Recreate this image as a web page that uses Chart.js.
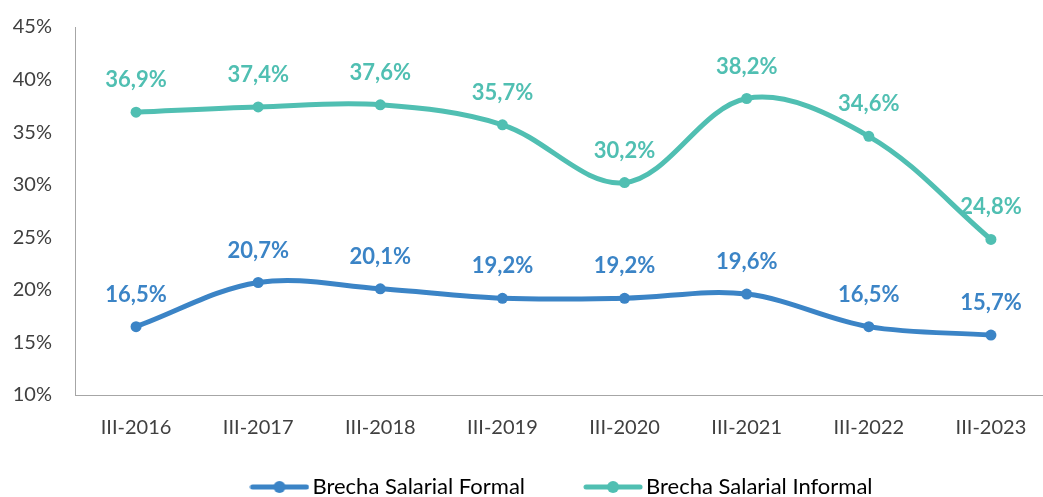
<!DOCTYPE html>
<html>
<head>
<meta charset="utf-8">
<script src="https://cdn.jsdelivr.net/npm/chart.js@4"></script>
<style>
  html, body { margin: 0; padding: 0; background: #fff; }
  #wrap { width: 1043px; height: 497px; overflow: hidden; position: relative; }
  #chart { position: absolute; left: 0; top: 0; }
</style>
</head>
<body>
<div id="wrap"><canvas id="chart" width="1130" height="508"></canvas></div>
<script>
'use strict';

// ---- 数据 ----
const periods = ['III-2016', 'III-2017', 'III-2018', 'III-2019', 'III-2020', 'III-2021', 'III-2022', 'III-2023'];
const brechaFormal = [16.5, 20.7, 20.1, 19.2, 19.2, 19.6, 16.5, 15.7];
const brechaInformal = [36.9, 37.4, 37.6, 35.7, 30.2, 38.2, 34.6, 24.8];
const yTicks = [10, 15, 20, 25, 30, 35, 40, 45];

const BLUE = '#3B84C6';
const TEAL = '#50BFB2';
const FONT = 'Lato, "Open Sans", sans-serif';

// 图例标记: 线 + 圆点
function legendMarker(color) {
    const c = document.createElement('canvas');
    c.width = 60;
    c.height = 14;
    const ctx = c.getContext('2d');
    ctx.strokeStyle = color;
    ctx.lineWidth = 5;
    ctx.lineCap = 'round';
    ctx.beginPath();
    ctx.moveTo(3, 7);
    ctx.lineTo(57, 7);
    ctx.stroke();
    ctx.fillStyle = color;
    ctx.beginPath();
    ctx.arc(30, 7, 6, 0, Math.PI * 2);
    ctx.fill();
    return c;
}

// 数据标签
const valueLabels = {
    id: 'valueLabels',
    afterDatasetsDraw(chart) {
        const ctx = chart.ctx;
        ctx.save();
        ctx.font = 'bold 22px ' + FONT;
        ctx.textAlign = 'center';
        ctx.textBaseline = 'middle';
        chart.data.datasets.forEach((ds, i) => {
            const meta = chart.getDatasetMeta(i);
            ctx.fillStyle = ds.borderColor;
            meta.data.forEach((pt, j) => {
                const txt = ds.data[j].toFixed(1).replace('.', ',') + '%';
                ctx.fillText(txt, pt.x, pt.y - 32);
            });
        });
        ctx.restore();
    }
};

new Chart(document.getElementById('chart'), {
    type: 'line',
    data: {
        labels: periods,
        datasets: [
            {
                label: 'Brecha Salarial Formal',
                data: brechaFormal,
                borderColor: BLUE,
                backgroundColor: BLUE,
                borderWidth: 5,
                tension: 0.35,
                pointRadius: 5.5,
                pointBackgroundColor: BLUE,
                pointBorderWidth: 0,
                pointStyle: 'circle'
            },
            {
                label: 'Brecha Salarial Informal',
                data: brechaInformal,
                borderColor: TEAL,
                backgroundColor: TEAL,
                borderWidth: 5,
                tension: 0.35,
                pointRadius: 5.5,
                pointBackgroundColor: TEAL,
                pointBorderWidth: 0,
                pointStyle: 'circle'
            }
        ]
    },
    options: {
        responsive: false,
        animation: false,
        layout: { padding: { top: 27, bottom: 0, left: 0, right: 0 } },
        plugins: {
            tooltip: { enabled: false },
            legend: {
                position: 'bottom',
                labels: {
                    usePointStyle: true,
                    pointStyleWidth: 44,
                    padding: 33,
                    color: '#404040',
                    font: { family: FONT, size: 22 },
                    generateLabels(chart) {
                        // 第一项后面留出间距
                        return chart.data.datasets.map((ds, i) => ({
                            text: i === 0 ? ds.label + '\u2003\u2003' : ds.label,
                            pointStyle: legendMarker(ds.borderColor),
                            fillStyle: ds.borderColor,
                            strokeStyle: ds.borderColor,
                            lineWidth: 0,
                            datasetIndex: i,
                            hidden: false
                        }));
                    }
                }
            }
        },
        scales: {
            x: {
                offset: true,
                grid: { display: false, drawTicks: false },
                border: { display: true, color: '#A6A6A6', width: 1 },
                ticks: {
                    color: '#404040',
                    font: { family: FONT, size: 20 },
                    padding: 21,
                    maxRotation: 0
                },
                afterFit(scale) { scale.height = 48; }
            },
            y: {
                min: 10,
                max: 45,
                grid: { display: false, drawTicks: false },
                border: { display: true, color: '#A6A6A6', width: 1 },
                afterBuildTicks(scale) { scale.ticks = yTicks.map(v => ({ value: v })); },
                ticks: {
                    color: '#404040',
                    font: { family: FONT, size: 20 },
                    padding: 23,
                    callback: v => v + '%'
                },
                afterFit(scale) {
                    scale.width = 75;
                    scale.paddingTop = 0;
                    scale.paddingBottom = 0;
                }
            },
            yPad: {
                position: 'right',
                display: true,
                grid: { display: false, drawTicks: false },
                border: { display: false },
                ticks: { display: false },
                afterFit(scale) {
                    scale.width = 78;
                    scale.paddingTop = 0;
                    scale.paddingBottom = 0;
                }
            }
        }
    },
    plugins: [valueLabels]
});
</script>
</body>
</html>
